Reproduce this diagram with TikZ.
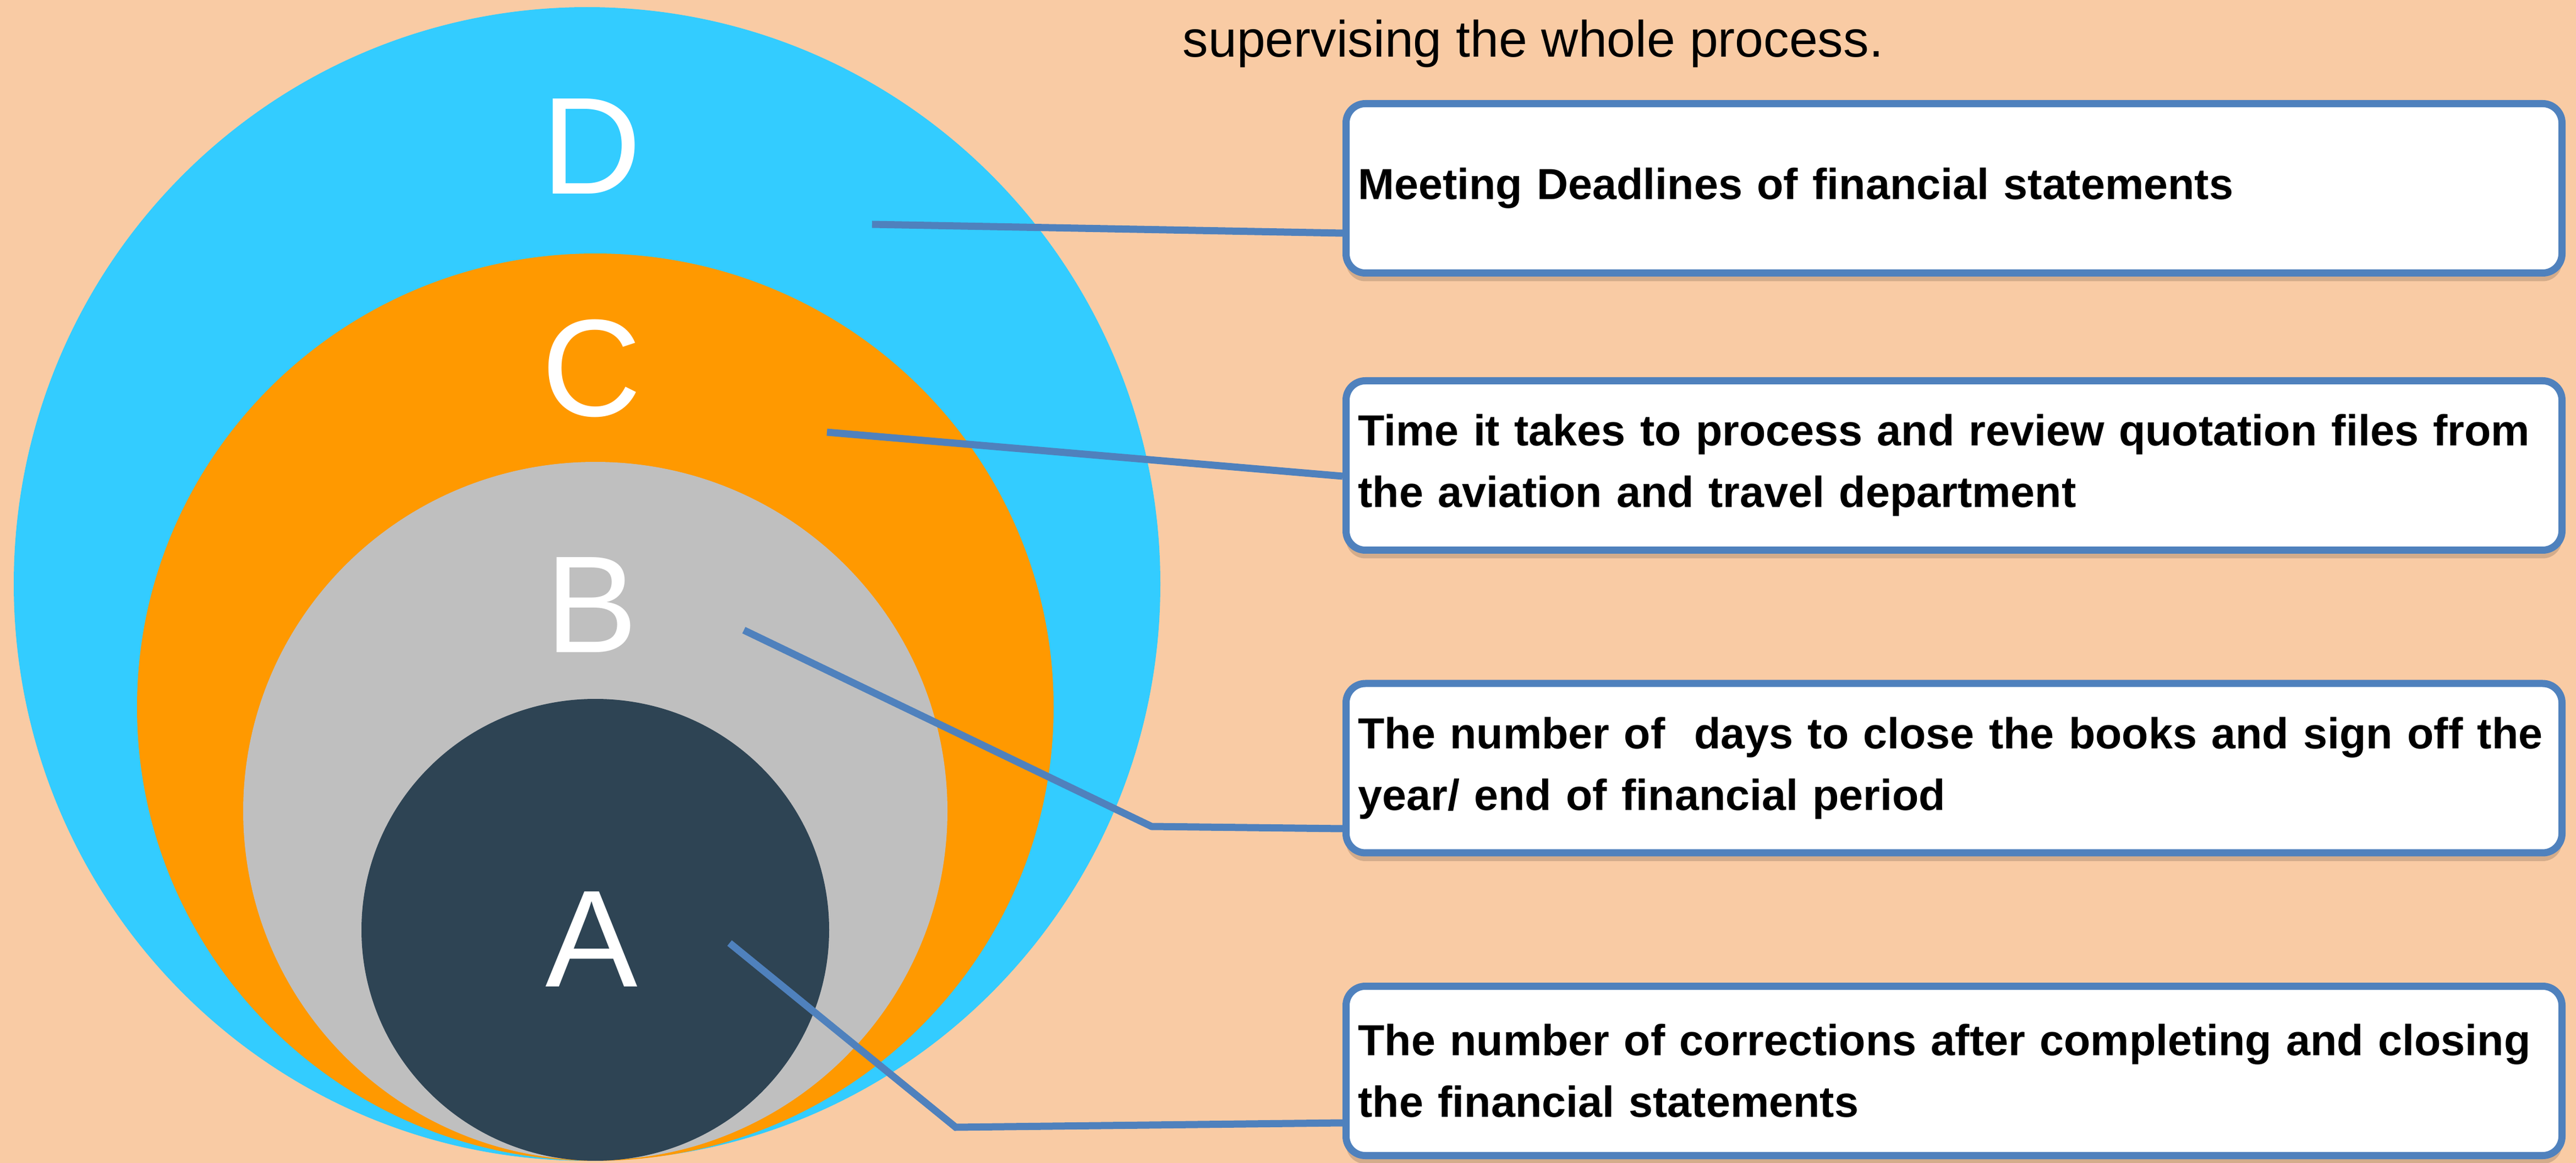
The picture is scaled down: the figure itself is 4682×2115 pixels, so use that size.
\documentclass[tikz,border=0pt]{standalone}
\usepackage{fontspec}
\setmainfont{Liberation Sans}
\usetikzlibrary{calc, positioning, shadows}
\definecolor{fondpeche}{HTML}{F9CBA4}
\definecolor{cercleD}{HTML}{33CCFF}
\definecolor{cercleC}{HTML}{FF9900}
\definecolor{cercleB}{HTML}{BFBFBF}
\definecolor{cercleA}{HTML}{2E4454}
\definecolor{lienbleu}{HTML}{4F81BD}

\begin{document}
\begin{tikzpicture}[x=0.1mm, y=-0.1mm,
  boite/.style={draw=lienbleu, line width=1.3mm, fill=white, rounded corners=3.5mm,
    minimum width=221mm, minimum height=30.8mm, text width=216.6mm, inner xsep=2.2mm,
    align=left, font=\fontsize{22.5}{31.87}\selectfont\bfseries,
    drop shadow={shadow xshift=0mm, shadow yshift=-1.5mm, opacity=0.15, fill=black}},
  lettre/.style={text=white, font=\fontsize{71.5}{86}\selectfont, anchor=base, inner sep=0pt},
  lien/.style={lienbleu, line width=1.3mm}]

  % === FOND (1 unite = 1 pixel) ===
  \fill[fondpeche] (0,0) rectangle (4682,2115);
  \useasboundingbox (0,0) rectangle (4682,2115);

  % Abscisse des cercles
  \pgfmathsetmacro{\xC}{1082}
  \pgfmathsetmacro{\xL}{1075}   % lettres

  % === CERCLES ===
  \fill[cercleD] (1067,1062) ellipse [x radius=104.2mm, y radius=104.9mm];
  \fill[cercleC] (\xC,1286) ellipse [x radius=83.3mm, y radius=82.5mm];
  \fill[cercleB] (\xC,1475) ellipse [x radius=64mm, y radius=63.5mm];
  \fill[cercleA] (\xC,1691) ellipse [x radius=42.5mm, y radius=42mm];

  \node[lettre] (lD) at (\xL,353) {D};
  \node[lettre] (lC) at (\xL,757) {C};
  \node[lettre] (lB) at (\xL,1187) {B};
  \node[lettre] (lA) at (\xL,1794) {A};

  % === TEXTE DU HAUT ===
  \node[anchor=base west, inner sep=0pt, font=\fontsize{26.5}{32}\selectfont] (titre)
    at (2149,104) {supervising the whole process.};

  % === BOITES ===
  \pgfmathsetmacro{\xB}{3551.5}
  \node[boite] (dbox) at (\xB,342.5) {Meeting Deadlines of financial statements};
  \node[boite] (cbox) at (\xB,846.5) {Time it takes to process and review quotation files from\\the aviation and travel department};
  \node[boite] (bbox) at (\xB,1397) {The number of\ \ days to close the books and sign off the\\year/ end of financial period};
  \node[boite] (abox) at (\xB,1947.5) {The number of corrections after completing and closing\\the financial statements};

  % === LIENS ===
  \coordinate (pD) at (1585,408);
  \coordinate (pC) at (1503,786);
  \coordinate (pB) at (1352,1146);
  \coordinate (coudeB) at (2093,1503);
  \coordinate (pA) at (1326,1715);
  \coordinate (coudeA) at (1737,2050);

  \draw[lien] (pD) -- ([yshift=-8.15mm]dbox.west);
  \draw[lien] (pC) -- ([yshift=-1.95mm]cbox.west);
  \draw[lien] (pB) -- (coudeB) -- ([yshift=-11mm]bbox.west);
  \draw[lien] (pA) -- (coudeA) -- ([yshift=-9.45mm]abox.west);

\end{tikzpicture}
\end{document}
